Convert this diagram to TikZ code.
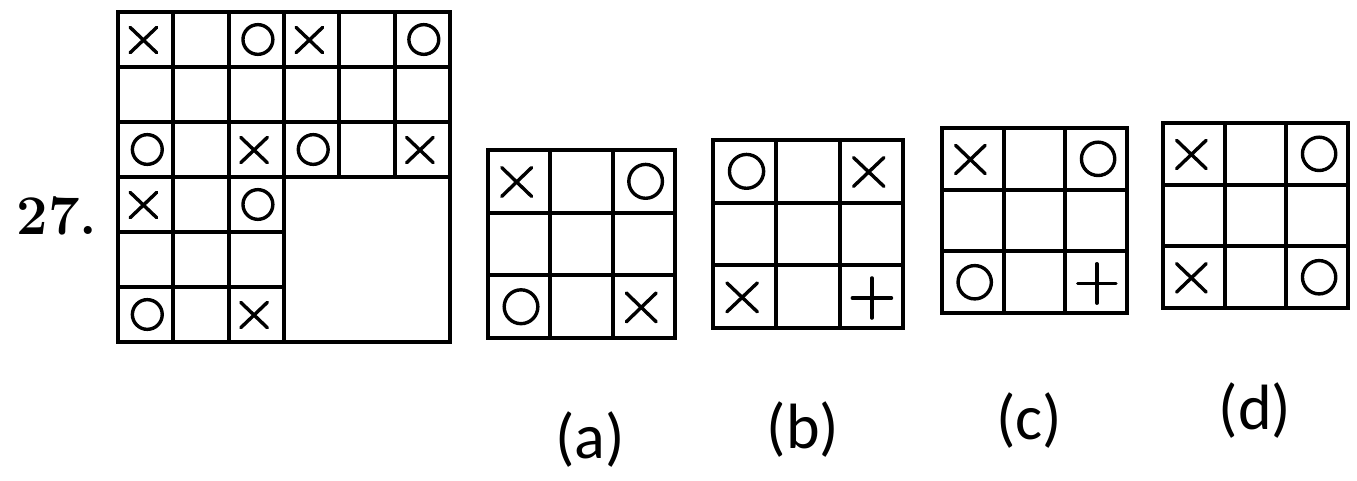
\documentclass[tikz,border=0pt]{standalone}
\usepackage{fontspec}
\newfontfamily\optfont{Carlito}
\usepackage{tikz}
\tikzset{
  gridln/.style={line width=4pt},
  sym/.style={line width=3.4pt, line cap=round},
  optlbl/.style={font=\optfont\fontsize{64}{64}\selectfont},
  numlbl/.style={font=\bfseries\fontsize{56}{56}\selectfont},
}
% marks, (#1,#2) = top left corner of the cell
\newcommand{\xm}[2]{\draw[sym] (#1+.22,#2+.28) -- (#1+.7,#2+.74) (#1+.22,#2+.74) -- (#1+.7,#2+.28);}
\newcommand{\om}[2]{\draw[sym] (#1+.53,#2+.5) circle[radius=.27];}
\newcommand{\plusm}[2]{\draw[sym] (#1+.2,#2+.52) -- (#1+.82,#2+.52) (#1+.51,#2+.2) -- (#1+.51,#2+.84);}
\newcommand{\optgrid}{%
  \draw[gridln] (0,0) rectangle (3,3);
  \foreach \i in {1,2} {\draw[gridln] (\i,0) -- (\i,3); \draw[gridln] (0,\i) -- (3,\i);}
}

\begin{document}
\begin{tikzpicture}[x=1pt,y=-1pt]
  \useasboundingbox (0,0) rectangle (1357,481);
  \node[numlbl] (num) at (57,216) {27.};
  % question grid
  \begin{scope}[shift={(118,12)},x=55.3pt,y=-55pt]
    \draw[gridln] (0,0) rectangle (6,6);
    \foreach \i in {1,2,3} {\draw[gridln] (\i,0) -- (\i,6); \draw[gridln] (0,\i) -- (6,\i);}
    \foreach \i in {4,5} {\draw[gridln] (\i,0) -- (\i,3); \draw[gridln] (0,\i) -- (3,\i);}
    \xm{0}{0} \om{2}{0} \xm{3}{0} \om{5}{0}
    \om{0}{2} \xm{2}{2} \om{3}{2} \xm{5}{2}
    \xm{0}{3} \om{2}{3}
    \om{0}{5} \xm{2}{5}
  \end{scope}
  % answer figures
  \begin{scope}[shift={(488,150)},x=62.3pt,y=-62.7pt]
    \optgrid
    \xm{0}{0} \om{2}{0} \om{0}{2} \xm{2}{2}
  \end{scope}
  \begin{scope}[shift={(713,140)},x=63.3pt,y=-62.7pt]
    \optgrid
    \om{0}{0} \xm{2}{0} \xm{0}{2} \plusm{2}{2}
  \end{scope}
  \begin{scope}[shift={(942,128)},x=61.7pt,y=-61.7pt]
    \optgrid
    \xm{0}{0} \om{2}{0} \om{0}{2} \plusm{2}{2}
  \end{scope}
  \begin{scope}[shift={(1163,123)},x=61.7pt,y=-61.7pt]
    \optgrid
    \xm{0}{0} \om{2}{0} \xm{0}{2} \om{2}{2}
  \end{scope}
  \node[optlbl] (lbla) at (590,440) {(a)};
  \node[optlbl] (lblb) at (803,430) {(b)};
  \node[optlbl] (lblc) at (1029,421) {(c)};
  \node[optlbl] (lbld) at (1255,411) {(d)};
\end{tikzpicture}
\end{document}
